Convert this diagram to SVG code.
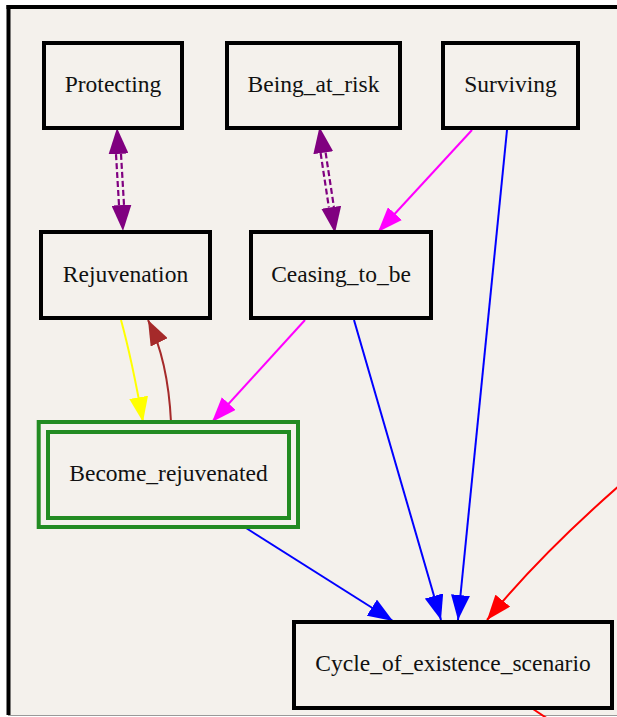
<svg xmlns="http://www.w3.org/2000/svg" width="617" height="717" viewBox="0 0 617 717">
<style>
.node rect{fill:none;stroke:#000;stroke-width:4}
.lbl{font-family:"Liberation Serif","Times New Roman",serif;font-size:23.5px;fill:#111;text-anchor:middle}
.e{fill:none;stroke-width:2}
.dd{fill:none;stroke:#800080;stroke-width:2.2;stroke-dasharray:6 3}
</style>
<defs>
<marker id="aP" viewBox="0 0 26 20" refX="26" refY="10" markerWidth="26" markerHeight="20" markerUnits="userSpaceOnUse" orient="auto-start-reverse"><path d="M0,0L26,10L0,20z" fill="#800080"/></marker>
<marker id="aM" viewBox="0 0 25 19" refX="25" refY="9.5" markerWidth="25" markerHeight="19" markerUnits="userSpaceOnUse" orient="auto"><path d="M0,0L25,9.5L0,19z" fill="#FF00FF"/></marker>
<marker id="aB" viewBox="0 0 25 19" refX="25" refY="9.5" markerWidth="25" markerHeight="19" markerUnits="userSpaceOnUse" orient="auto"><path d="M0,0L25,9.5L0,19z" fill="#0000FF"/></marker>
<marker id="aY" viewBox="0 0 25 19" refX="25" refY="9.5" markerWidth="25" markerHeight="19" markerUnits="userSpaceOnUse" orient="auto"><path d="M0,0L25,9.5L0,19z" fill="#FFFF00"/></marker>
<marker id="aW" viewBox="0 0 25 19" refX="25" refY="9.5" markerWidth="25" markerHeight="19" markerUnits="userSpaceOnUse" orient="auto"><path d="M0,0L25,9.5L0,19z" fill="#A52A2A"/></marker>
<marker id="aR" viewBox="0 0 25 19" refX="25" refY="9.5" markerWidth="25" markerHeight="19" markerUnits="userSpaceOnUse" orient="auto"><path d="M0,0L25,9.5L0,19z" fill="#FF0000"/></marker>
</defs>
<rect x="0" y="0" width="617" height="717" fill="#FFFFFF"/>
<rect x="8" y="7" width="609" height="708" fill="#F4F1EC"/>
<line x1="8.5" y1="5" x2="8.5" y2="715" stroke="#000" stroke-width="4"/>
<line x1="6.5" y1="7" x2="617" y2="7" stroke="#000" stroke-width="4"/>
<line x1="8" y1="715.5" x2="617" y2="715.5" stroke="#999" stroke-width="1"/>

<g id="edges">
<path class="dd" d="M121,153.9L124,204.9"/>
<path class="dd" d="M116,154.1L119,205.1"/>
<path d="M117,128L123,231" stroke="none" fill="none" marker-start="url(#aP)" marker-end="url(#aP)"/>
<path class="dd" d="M325.6,152.4L333.9,207"/>
<path class="dd" d="M320.6,153L328.9,207.6"/>
<path d="M319.5,127L335,233" stroke="none" fill="none" marker-start="url(#aP)" marker-end="url(#aP)"/>
<path class="e" stroke="#FF00FF" d="M472,130L378,232" marker-end="url(#aM)"/>
<path class="e" stroke="#0000FF" d="M507,130L458,620" marker-end="url(#aB)"/>
<path class="e" stroke="#0000FF" d="M354,320L441,620" marker-end="url(#aB)"/>
<path class="e" stroke="#FF00FF" d="M305,320L212,422" marker-end="url(#aM)"/>
<path class="e" stroke="#FFFF00" d="M121,320Q132,360 143,422" marker-end="url(#aY)"/>
<path class="e" stroke="#A52A2A" d="M171,422Q168,360 148,320" marker-end="url(#aW)"/>
<path class="e" stroke="#0000FF" d="M246,528L393,621" marker-end="url(#aB)"/>
<path class="e" stroke="#FF0000" d="M620,485Q540,555 487,620" marker-end="url(#aR)"/>
<path class="e" stroke="#FF0000" d="M533,709L548,719"/>
</g>

<g id="Protecting" class="node"><rect x="44" y="43" width="138" height="85"/><text class="lbl" x="113" y="92">Protecting</text></g>
<g id="Being_at_risk" class="node"><rect x="227" y="43" width="173" height="85"/><text class="lbl" x="313.5" y="92">Being_at_risk</text></g>
<g id="Surviving" class="node"><rect x="443" y="43" width="135" height="85"/><text class="lbl" x="510.5" y="92">Surviving</text></g>
<g id="Rejuvenation" class="node"><rect x="41" y="232" width="169" height="86"/><text class="lbl" x="125.5" y="282">Rejuvenation</text></g>
<g id="Ceasing_to_be" class="node"><rect x="251" y="232" width="180" height="86"/><text class="lbl" x="341" y="282">Ceasing_to_be</text></g>
<g id="Become_rejuvenated" class="node"><rect x="38.7" y="422" width="259.3" height="105" style="stroke:#228B22"/><rect x="48" y="432" width="241" height="86" style="stroke:#228B22"/><text class="lbl" x="168.5" y="481">Become_rejuvenated</text></g>
<g id="Cycle_of_existence_scenario" class="node"><rect x="294" y="622" width="318" height="86"/><text class="lbl" x="453" y="671">Cycle_of_existence_scenario</text></g>
</svg>
